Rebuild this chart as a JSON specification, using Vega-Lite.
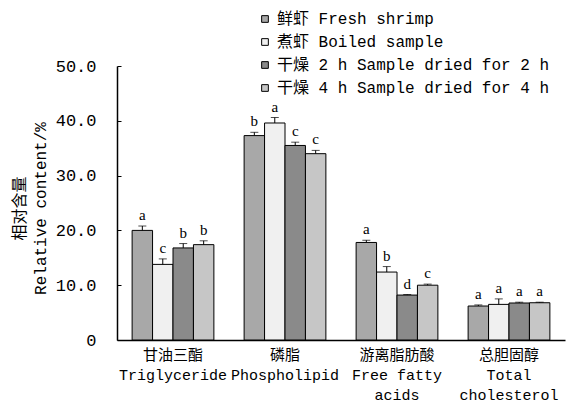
{
  "$schema": "https://vega.github.io/schema/vega-lite/v6.json",
  "width": 448,
  "height": 274,
  "autosize": {"type": "none"},
  "padding": {"left": 117, "top": 66, "right": 5, "bottom": 66},
  "background": "white",
  "config": {
    "view": {"stroke": null},
    "font": "Liberation Mono, Noto Sans CJK SC"
  },
  "data": {
    "values": [
      {"group": "甘油三酯|Triglyceride", "sample": "鲜虾 Fresh shrimp", "value": 20.0, "top": 20.8, "letter": "a"},
      {"group": "甘油三酯|Triglyceride", "sample": "煮虾 Boiled sample", "value": 13.8, "top": 14.8, "letter": "c"},
      {"group": "甘油三酯|Triglyceride", "sample": "干燥 2 h Sample dried for 2 h", "value": 16.8, "top": 17.6, "letter": "b"},
      {"group": "甘油三酯|Triglyceride", "sample": "干燥 4 h Sample dried for 4 h", "value": 17.4, "top": 18.1, "letter": "b"},
      {"group": "磷脂|Phospholipid", "sample": "鲜虾 Fresh shrimp", "value": 37.3, "top": 37.9, "letter": "b"},
      {"group": "磷脂|Phospholipid", "sample": "煮虾 Boiled sample", "value": 39.6, "top": 40.6, "letter": "a"},
      {"group": "磷脂|Phospholipid", "sample": "干燥 2 h Sample dried for 2 h", "value": 35.5, "top": 36.1, "letter": "c"},
      {"group": "磷脂|Phospholipid", "sample": "干燥 4 h Sample dried for 4 h", "value": 34.0, "top": 34.6, "letter": "c"},
      {"group": "游离脂肪酸|Free fatty|acids", "sample": "鲜虾 Fresh shrimp", "value": 17.8, "top": 18.2, "letter": "a"},
      {"group": "游离脂肪酸|Free fatty|acids", "sample": "煮虾 Boiled sample", "value": 12.4, "top": 13.4, "letter": "b"},
      {"group": "游离脂肪酸|Free fatty|acids", "sample": "干燥 2 h Sample dried for 2 h", "value": 8.2, "top": 8.3, "letter": "d"},
      {"group": "游离脂肪酸|Free fatty|acids", "sample": "干燥 4 h Sample dried for 4 h", "value": 10.0, "top": 10.2, "letter": "c"},
      {"group": "总胆固醇|Total|cholesterol", "sample": "鲜虾 Fresh shrimp", "value": 6.2, "top": 6.4, "letter": "a"},
      {"group": "总胆固醇|Total|cholesterol", "sample": "煮虾 Boiled sample", "value": 6.5, "top": 7.5, "letter": "a"},
      {"group": "总胆固醇|Total|cholesterol", "sample": "干燥 2 h Sample dried for 2 h", "value": 6.75, "top": 6.9, "letter": "a"},
      {"group": "总胆固醇|Total|cholesterol", "sample": "干燥 4 h Sample dried for 4 h", "value": 6.8, "top": 6.9, "letter": "a"}
    ]
  },
  "encoding": {
    "x": {
      "field": "group",
      "type": "nominal",
      "sort": null,
      "scale": {"paddingInner": 0.27, "paddingOuter": 0.135},
      "axis": {
        "title": null,
        "labelAngle": 0,
        "labelExpr": "split(datum.label, '|')",
        "labelFont": "Liberation Mono, Noto Sans CJK SC",
        "labelFontSize": 15,
        "labelLineHeight": 20,
        "labelColor": "black",
        "labelPadding": 7,
        "ticks": false,
        "domainColor": "black",
        "domainWidth": 1.5
      }
    },
    "xOffset": {
      "field": "sample",
      "type": "nominal",
      "sort": null,
      "scale": {"paddingInner": 0, "paddingOuter": 0}
    }
  },
  "layer": [
    {
      "mark": {"type": "bar", "stroke": "black", "strokeWidth": 1},
      "encoding": {
        "y": {
          "field": "value",
          "type": "quantitative",
          "scale": {"domain": [0, 50], "nice": false},
          "axis": {
            "values": [0, 10, 20, 30, 40, 50],
            "labelExpr": "datum.value == 0 ? '0' : format(datum.value, '.1f')",
            "labelFont": "Liberation Mono, Noto Sans CJK SC",
            "labelFontSize": 17,
            "labelColor": "black",
            "labelPadding": 25,
            "grid": false,
            "tickColor": "black",
            "tickSize": -4,
            "domainColor": "black",
            "domainWidth": 1.5,
            "title": ["相对含量", "Relative content/%"],
            "titleFont": "Liberation Mono, Noto Sans CJK SC",
            "titleFontSize": 16,
            "titleFontWeight": "normal",
            "titleColor": "black",
            "titleLineHeight": 21,
            "titleAngle": -90,
            "titleAnchor": "middle",
            "titleBaseline": "top",
            "titleX": -106,
            "titleY": 142
          }
        },
        "fill": {
          "field": "sample",
          "type": "nominal",
          "sort": null,
          "scale": {
            "domain": ["鲜虾 Fresh shrimp", "煮虾 Boiled sample", "干燥 2 h Sample dried for 2 h", "干燥 4 h Sample dried for 4 h"],
            "range": ["#a8a8a8", "#f0f0f0", "#8a8a8a", "#c6c6c6"]
          },
          "legend": {
            "orient": "none",
            "legendX": 140,
            "legendY": -55,
            "title": null,
            "symbolType": "square",
            "symbolSize": 45,
            "symbolStrokeColor": "black",
            "symbolStrokeWidth": 1,
            "labelFont": "Liberation Mono, Noto Sans CJK SC",
            "labelFontSize": 16,
            "labelColor": "black",
            "labelOffset": 4,
            "rowPadding": 7,
            "labelLimit": 400
          }
        }
      }
    },
    {
      "mark": {"type": "rule", "color": "black", "strokeWidth": 1},
      "encoding": {
        "y": {"field": "value", "type": "quantitative"},
        "y2": {"field": "top"}
      }
    },
    {
      "mark": {"type": "tick", "color": "black", "orient": "horizontal", "size": 8, "thickness": 1},
      "encoding": {
        "y": {"field": "top", "type": "quantitative"}
      }
    },
    {
      "mark": {"type": "text", "baseline": "bottom", "dy": -3, "fontSize": 15, "font": "Liberation Serif", "color": "black"},
      "encoding": {
        "y": {"field": "top", "type": "quantitative"},
        "text": {"field": "letter"}
      }
    }
  ]
}
